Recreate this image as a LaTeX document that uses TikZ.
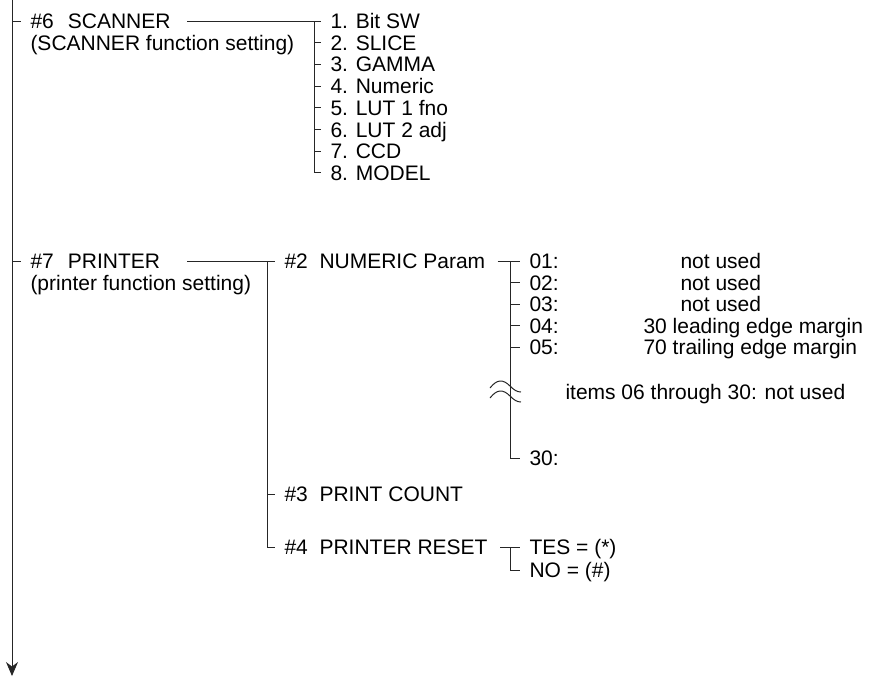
\documentclass[tikz,border=0pt]{standalone}
\usepackage{fontspec}
\setmainfont{Liberation Sans}
\usetikzlibrary{arrows.meta}

\begin{document}
\begin{tikzpicture}[x=1pt,y=-1pt,
  font=\fontsize{21}{21}\selectfont,
  line width=1pt,
  lbl/.style={anchor=west, inner xsep=9pt, inner ysep=0pt, text height=15pt, text depth=0pt},
  title/.style={lbl, text width=147pt, align=left},
  val/.style={anchor=west, inner sep=0pt, text height=15pt, text depth=0pt},
  ln/.style={draw=black!85}]
\useasboundingbox (0,0) rectangle (874,678);
% main flow line
\coordinate (top) at (12,0);
\coordinate (bot) at (12,676);
\draw[ln, -{Stealth[length=14pt,width=12pt]}] (top) -- (bot);
% #6 scanner
\node[title] (scn) at (21,21) {\#6\ \ SCANNER};
\node[lbl] (scnsub) at (21,43) {(SCANNER function setting)};
\draw[ln] (scn.west -| top) -- (scn.west);
\coordinate (sbar) at (314,0);
\foreach \k/\t in {1/Bit SW,2/SLICE,3/GAMMA,4/Numeric,5/LUT 1 fno,6/LUT 2 adj,7/CCD,8/MODEL}
  \node[lbl] (s\k) at (321,{21+21.7*(\k-1)}) {\k. \t};
\draw[ln] (scn.east) -- (s1.west);
\draw[ln] (s1.west -| sbar) |- (s8.west);
\foreach \k in {2,...,7} \draw[ln] (s\k.west -| sbar) -- (s\k.west);
% #7 printer
\node[title] (prn) at (21,261) {\#7\ \ PRINTER};
\node[lbl] (prnsub) at (21,283) {(printer function setting)};
\draw[ln] (prn.west -| top) -- (prn.west);
\coordinate (pbar) at (267,0);
\node[lbl] (num) at (275,261) {\#2\ \ NUMERIC Param};
\node[lbl] (cnt) at (275,494) {\#3\ \ PRINT COUNT};
\node[lbl] (rst) at (275,547) {\#4\ \ PRINTER RESET};
\draw[ln] (prn.east) -- (num.west);
\draw[ln] (num.west -| pbar) |- (rst.west);
\draw[ln] (cnt.west -| pbar) -- (cnt.west);
% numeric params
\coordinate (nbar) at (510,0);
\foreach \k in {1,...,5}
  \node[lbl] (n\k) at (520,{261+21.5*(\k-1)}) {0\k:};
\node[lbl] (n30) at (520,458) {30:};
\draw[ln, shorten <=3pt] (num.east) -- (n1.west);
\draw[ln] (n1.west -| nbar) |- (n30.west);
\foreach \k in {2,...,5} \draw[ln] (n\k.west -| nbar) -- (n\k.west);
\node[val] (v1) at (680,261) {not used};
\node[val] (v2) at (680,282.5) {not used};
\node[val] (v3) at (680,304) {not used};
\node[val] (v4) at (643,325.5) {30 leading edge margin};
\node[val] (v5) at (643,347) {70 trailing edge margin};
% break in the list
\coordinate (brk) at (510,386);
\foreach \dy in {0,10}
  \draw[ln, shift={(brk)}] (-20,\dy+2) .. controls (-13,\dy-7) and (-7,\dy-7) .. (0,\dy)
    .. controls (4,\dy+4) and (7,\dy+6) .. (11,\dy+6);
\node[val] (skip) at (565,392) {items 06 through 30: not used};
% printer reset
\coordinate (rbar) at (510,0);
\node[lbl] (yes) at (520,547) {TES = (*)};
\node[lbl] (no) at (520,570) {NO = (\#)};
\draw[ln, shorten <=3pt] (rst.east) -- (yes.west);
\draw[ln] (yes.west -| rbar) |- (no.west);
\end{tikzpicture}
\end{document}
